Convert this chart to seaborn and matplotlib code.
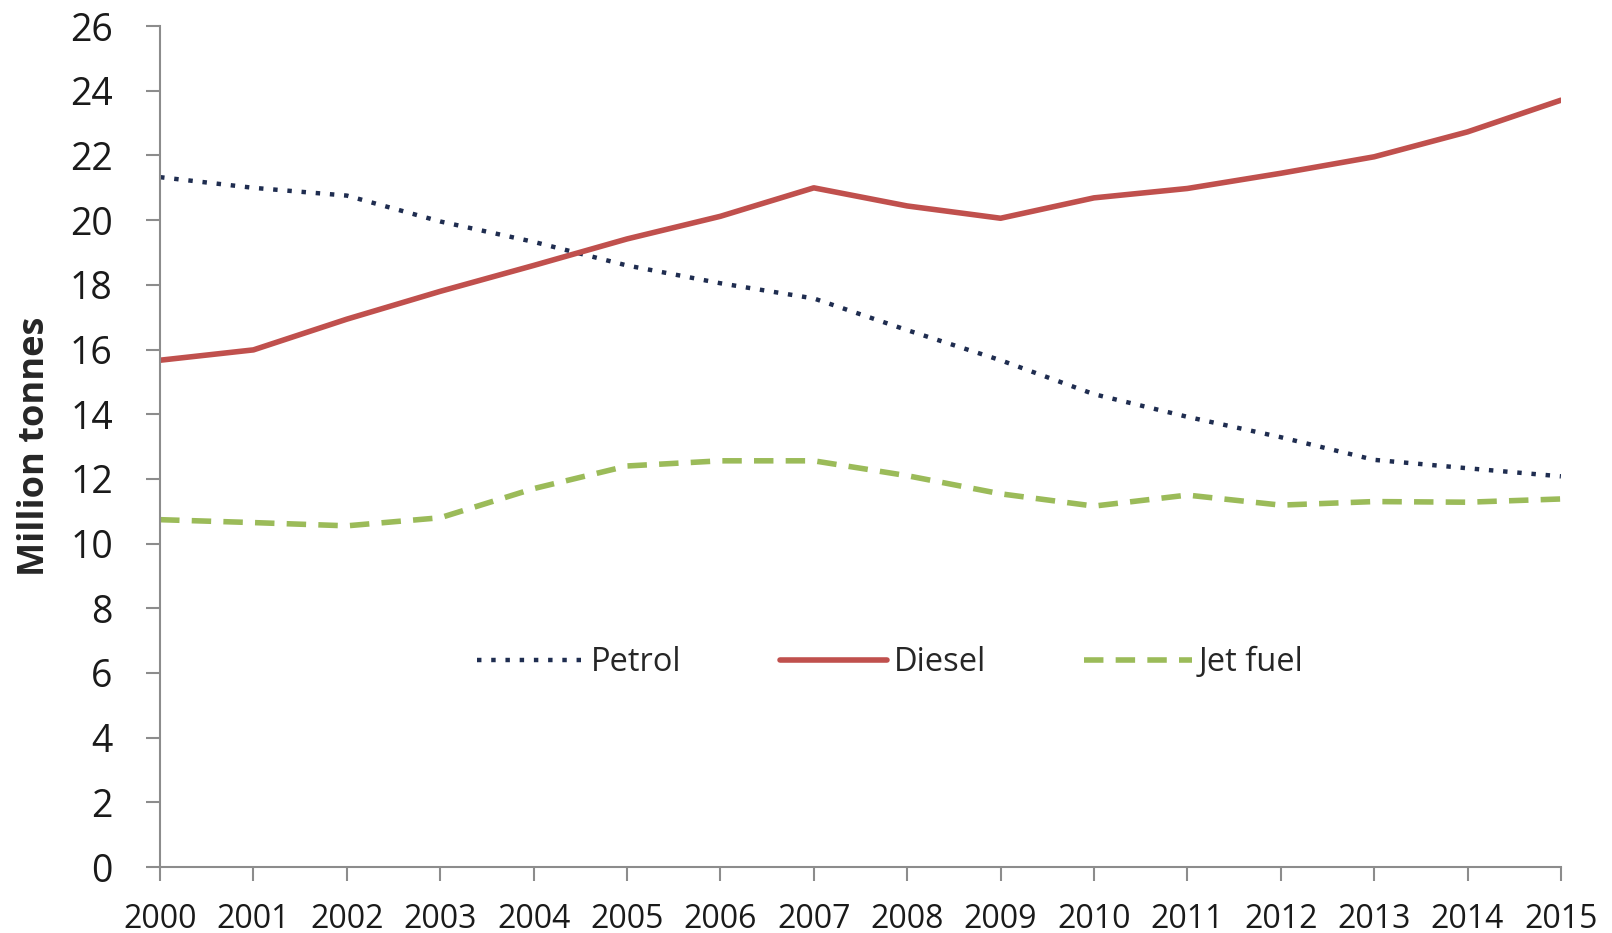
import matplotlib
matplotlib.use("Agg")
import matplotlib.pyplot as plt
import seaborn as sns
import pandas as pd

years = list(range(2000, 2016))
petrol = [21.33, 21.0, 20.76, 19.96, 19.33, 18.6, 18.05, 17.58, 16.6, 15.67, 14.62, 13.92, 13.29, 12.59, 12.33, 12.08]
diesel = [15.67, 15.99, 16.94, 17.8, 18.6, 19.42, 20.12, 21.0, 20.44, 20.06, 20.69, 20.98, 21.45, 21.96, 22.73, 23.71]
jet_fuel = [10.74, 10.65, 10.55, 10.8, 11.7, 12.4, 12.56, 12.56, 12.1, 11.54, 11.16, 11.5, 11.19, 11.3, 11.28, 11.38]
series_names = ["Petrol", "Diesel", "Jet fuel"]
y_ticks = list(range(0, 27, 2))

sns.set_style("white")
plt.rcParams['font.family'] = ['Open Sans', 'DejaVu Sans']

fig = plt.figure(figsize=(16.12, 9.33), dpi=100)
ax = fig.add_axes([0.0993, 0.0707, 0.869, 0.9013])

df = pd.DataFrame({"Year": years, "Petrol": petrol, "Diesel": diesel, "Jet fuel": jet_fuel})

styles = {
    "Petrol": dict(color="#1f2d50", linestyle=(0, (1, 2.2)), linewidth=3.2),
    "Diesel": dict(color="#c0504d", linestyle="-", linewidth=4),
    "Jet fuel": dict(color="#9bbb59", linestyle=(0, (3.5, 2.2)), linewidth=4),
}
for name in series_names:
    sns.lineplot(data=df, x="Year", y=name, ax=ax, label=name, **styles[name])

ax.set_xlim(2000, 2015)
ax.set_ylim(0, 26)
ax.set_xticks(years)
ax.set_xticklabels([str(y) for y in years], fontsize=23)
ax.set_yticks(y_ticks)
ax.set_yticklabels([str(v) for v in y_ticks], fontsize=27)
ax.set_xlabel("")
ax.set_ylabel("Million tonnes", fontsize=26, fontweight="bold", labelpad=12)

for s in ["top", "right"]:
    ax.spines[s].set_visible(False)
for s in ["left", "bottom"]:
    ax.spines[s].set_color("#8c8c8c")
    ax.spines[s].set_linewidth(1.5)
ax.tick_params(axis="both", direction="out", color="#8c8c8c", width=1.5, length=10,
               left=True, bottom=True, labelcolor="#1a1a1a")
ax.tick_params(axis="x", pad=16)
ax.tick_params(axis="y", pad=24)

leg = ax.legend(loc="center", bbox_to_anchor=(0.521, 0.243), ncol=3, frameon=False,
                fontsize=23.5, handlelength=3.3, handletextpad=0.2, columnspacing=3.0)

fig.savefig("out.png", dpi=100)
